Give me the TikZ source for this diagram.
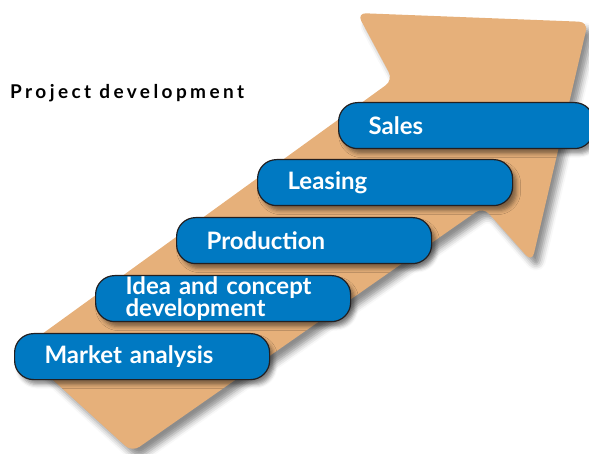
\documentclass[tikz,border=0pt]{standalone}
\usepackage{fontspec}
\setmainfont{Lato}
\usetikzlibrary{shadows.blur}
\definecolor{arrowtan}{RGB}{230,176,122}
\definecolor{stepblue}{RGB}{0,121,194}
\definecolor{stepline}{RGB}{35,31,32}
\tikzset{
  stepbox/.style={draw=stepline, line width=1.2pt, fill=stepblue, rounded corners=19pt,
    text=white, font=\fontsize{24}{20}\selectfont\bfseries, anchor=north west,
    text width=195pt, align=left, inner xsep=30pt, inner ysep=0pt, minimum height=46pt,
    blur shadow={shadow xshift=4pt, shadow yshift=-5pt, shadow blur radius=4pt, shadow opacity=45}},
}

\begin{document}
\begin{tikzpicture}[x=1pt,y=-1pt]
\useasboundingbox (0,0) rectangle (589,454);
%big arrow
\fill[arrowtan, rounded corners=9pt, blur shadow={shadow xshift=6pt, shadow yshift=-7pt, shadow blur radius=6pt, shadow opacity=45}]
  (20,350) -- (132,452) -- (483,207) -- (532,262) -- (588,22) -- (357,13) -- (393,80) -- cycle;
%title
\node[anchor=base west, font=\fontsize{19}{19}\selectfont\bfseries, inner sep=0pt] (title) at (10,99)
  {\addfontfeature{LetterSpace=18}Project development};
%steps
\node[stepbox] (market) at (14,333) {Market analysis};
\node[stepbox] (idea) at (95,275) {Idea and concept\\development};
\node[stepbox] (production) at (176,217) {Production};
\node[stepbox] (leasing) at (257,159) {Leasing};
\node[stepbox] (sales) at (338,102) {Sales};
\end{tikzpicture}
\end{document}
